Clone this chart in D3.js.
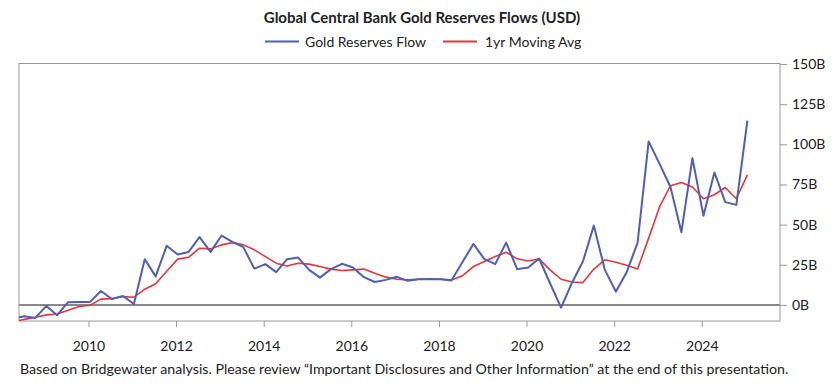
<!DOCTYPE html>
<html>
<head>
<meta charset="utf-8">
<script src="https://cdn.jsdelivr.net/npm/d3@7"></script>
<style>
  body { margin: 0; background: #fff; }
  svg text { font-family: Lato, "Open Sans", sans-serif; fill: #222; }
</style>
</head>
<body>
<div id="chart"></div>
<script>
// quarterly observations (first month of quarter)
var quarters = [
  "2008-04", "2008-07", "2008-10", "2009-01", "2009-04", "2009-07", "2009-10",
  "2010-01", "2010-04", "2010-07", "2010-10", "2011-01", "2011-04", "2011-07", "2011-10",
  "2012-01", "2012-04", "2012-07", "2012-10", "2013-01", "2013-04", "2013-07", "2013-10",
  "2014-01", "2014-04", "2014-07", "2014-10", "2015-01", "2015-04", "2015-07", "2015-10",
  "2016-01", "2016-04", "2016-07", "2016-10", "2017-01", "2017-04", "2017-07", "2017-10",
  "2018-01", "2018-04", "2018-07", "2018-10", "2019-01", "2019-04", "2019-07", "2019-10",
  "2020-01", "2020-04", "2020-07", "2020-10", "2021-01", "2021-04", "2021-07", "2021-10",
  "2022-01", "2022-04", "2022-07", "2022-10", "2023-01", "2023-04", "2023-07", "2023-10",
  "2024-01", "2024-04", "2024-07", "2024-10", "2025-01"
];

// Gold reserves flow, USD billions
var goldFlow = [
  -8.5, -7.0, -8.1, -0.6, -6.4, 1.7, 1.8,
  1.9, 8.7, 3.7, 5.6, 0.6, 28.5, 17.8, 36.8,
  31.4, 33.0, 42.2, 33.0, 43.2, 39.3, 36.0, 22.6,
  25.4, 20.4, 28.5, 29.5, 21.8, 17.0, 22.3, 25.6,
  23.3, 17.3, 14.3, 15.6, 17.5, 15.0, 16.0, 16.2,
  16.0, 15.2, 26.6, 38.0, 28.5, 25.4, 38.8, 22.3,
  23.3, 28.9, 13.5, -1.7, 14.0, 27.0, 49.4, 21.8,
  8.3, 20.4, 38.8, 101.8, 87.7, 73.4, 45.3, 91.4,
  55.5, 82.5, 64.0, 62.3, 114.7
];

// 1yr moving average, USD billions
var movingAvg = [
  -10.5, -9.0, -7.7, -6.2, -5.6, -3.3, -1.0,
  -0.2, 3.6, 3.9, 5.2, 4.8, 9.8, 13.2, 21.0,
  28.5, 29.7, 35.3, 34.9, 37.4, 38.8, 37.4, 34.3,
  30.1, 26.0, 24.3, 26.0, 25.4, 23.9, 22.3, 21.4,
  21.8, 22.3, 19.8, 17.3, 16.0, 15.6, 16.0, 16.0,
  16.0, 15.6, 18.1, 23.9, 27.0, 30.1, 32.8, 28.7,
  27.4, 28.7, 21.8, 16.0, 14.3, 13.9, 22.3, 28.1,
  26.6, 24.7, 22.4, 41.6, 61.3, 74.2, 76.2, 73.4,
  66.1, 68.6, 73.1, 66.1, 81.0
];

var yTicks = [0, 25, 50, 75, 100, 125, 150];
var xTickYears = [2010, 2012, 2014, 2016, 2018, 2020, 2022, 2024];

var seriesNames = ["Gold Reserves Flow", "1yr Moving Avg"];
var seriesColors = ["#4f5fb5", "#e8343c"];

// svg size
var svgWidth = 840;
var svgHeight = 388;

var margin = { top: 64, right: 60, bottom: 67, left: 19 };
var width = svgWidth - margin.left - margin.right;
var height = svgHeight - margin.top - margin.bottom;

var svg = d3.select("#chart")
    .append("svg")
    .attr("width", svgWidth)
    .attr("height", svgHeight);

var chartGroup = svg.append("g")
    .attr("transform", `translate(${margin.left},${margin.top})`);

var parseMonth = d3.timeParse("%Y-%m");
var dates = quarters.map(function(q) {
    var d = parseMonth(q);
    d.setDate(15);
    return d;
});

var xScale = d3.scaleTime()
    .domain([new Date(2008, 5, 1), new Date(2025, 9, 14)])
    .range([0, width]);

var yScale = d3.scaleLinear()
    .domain([-10, 150])
    .range([height, 0]);

// clip for lines
chartGroup.append("clipPath")
    .attr("id", "plot-clip")
    .append("rect")
    .attr("width", width)
    .attr("height", height);

// frame
chartGroup.append("rect")
    .attr("x", 0)
    .attr("y", -0.5)
    .attr("width", width)
    .attr("height", height + 0.5)
    .attr("fill", "none")
    .attr("stroke", "#9a9a9a")
    .attr("stroke-width", 1);

// right axis
var rightAxis = d3.axisRight(yScale)
    .tickValues(yTicks)
    .tickSize(7)
    .tickPadding(5)
    .tickFormat(function(d) { return d + "B"; });

var yAxis = chartGroup.append("g")
    .attr("transform", `translate(${width},0)`)
    .call(rightAxis);
yAxis.select(".domain").remove();
yAxis.selectAll("line").attr("stroke", "#9a9a9a");
yAxis.selectAll("text")
    .attr("font-size", "14px")
    .style("font-family", "Lato, sans-serif")
    .attr("fill", "#222");

// bottom axis
var bottomAxis = d3.axisBottom(xScale)
    .tickValues(xTickYears.map(function(y) { return new Date(y, 0, 1); }))
    .tickSize(6)
    .tickPadding(14)
    .tickFormat(d3.timeFormat("%Y"));

var xAxis = chartGroup.append("g")
    .attr("transform", `translate(0,${height})`)
    .call(bottomAxis);
xAxis.select(".domain").remove();
xAxis.selectAll("line").attr("stroke", "#9a9a9a");
xAxis.selectAll("text")
    .attr("font-size", "14px")
    .style("font-family", "Lato, sans-serif")
    .attr("fill", "#222");

// zero line
chartGroup.append("line")
    .attr("x1", 0)
    .attr("x2", width)
    .attr("y1", yScale(0))
    .attr("y2", yScale(0))
    .attr("stroke", "#8a8a8a")
    .attr("stroke-width", 2);

// lines
var lineGen = function(values) {
    return d3.line()
        .x(function(d, i) { return xScale(dates[i]); })
        .y(function(d) { return yScale(d); })(values);
};

var linesGroup = chartGroup.append("g").attr("clip-path", "url(#plot-clip)");

linesGroup.append("path")
    .attr("d", lineGen(movingAvg))
    .attr("fill", "none")
    .attr("stroke", seriesColors[1])
    .attr("stroke-width", 1.6)
    .attr("stroke-linejoin", "round");

linesGroup.append("path")
    .attr("d", lineGen(goldFlow))
    .attr("fill", "none")
    .attr("stroke", seriesColors[0])
    .attr("stroke-width", 2)
    .attr("stroke-linejoin", "round");

// title
svg.append("text")
    .attr("x", 422)
    .attr("y", 23)
    .attr("text-anchor", "middle")
    .attr("font-size", "15px")
    .attr("font-weight", "bold")
    .text("Global Central Bank Gold Reserves Flows (USD)");

// legend
var legendItems = [
    { x: 265, textX: 305 },
    { x: 443, textX: 485 }
];
legendItems.forEach(function(item, i) {
    svg.append("line")
        .attr("x1", item.x)
        .attr("x2", item.x + 34)
        .attr("y1", 41.5)
        .attr("y2", 41.5)
        .attr("stroke", seriesColors[i])
        .attr("stroke-width", 2);
    svg.append("text")
        .attr("x", item.textX)
        .attr("y", 46.5)
        .attr("font-size", "14px")
        .text(seriesNames[i]);
});

// footnote
svg.append("text")
    .attr("x", 20)
    .attr("y", 374)
    .attr("font-size", "14.2px")
    .text("Based on Bridgewater analysis. Please review \u201cImportant Disclosures and Other Information\u201d at the end of this presentation.");
</script>
</body>
</html>
